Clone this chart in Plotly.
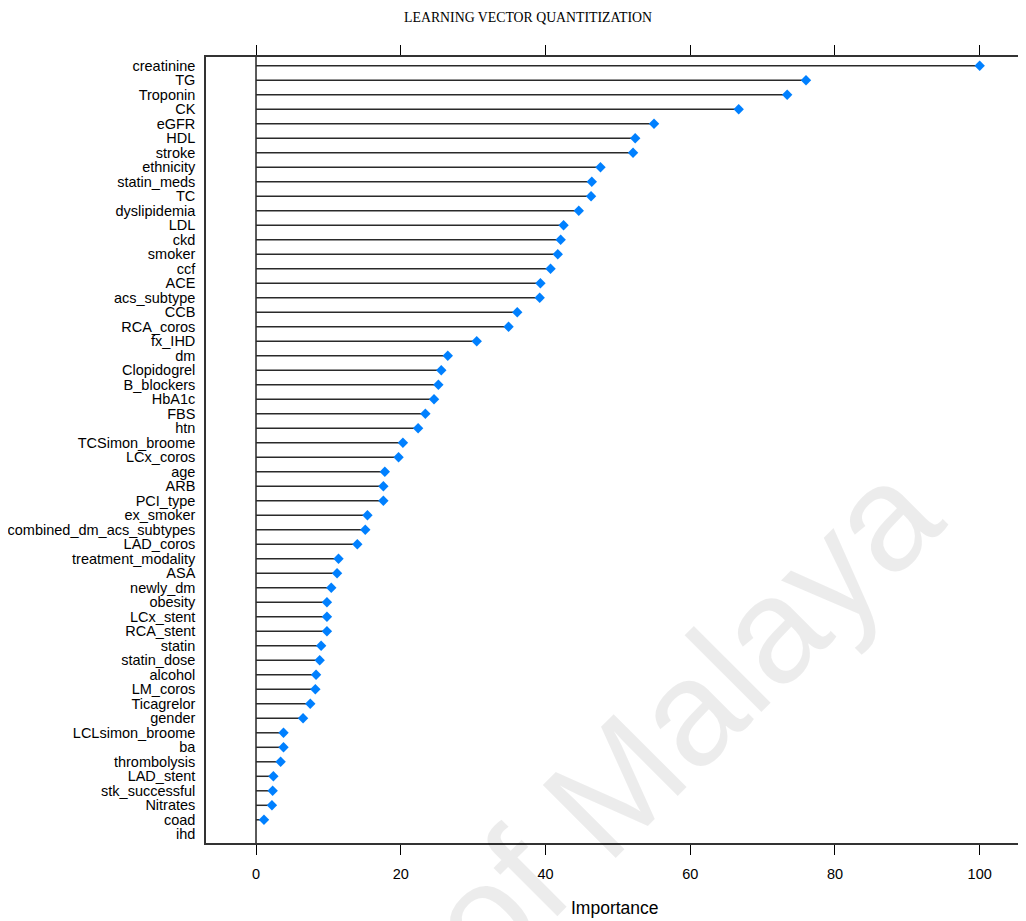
import plotly.graph_objects as go

features = ["creatinine", "TG", "Troponin", "CK", "eGFR", "HDL", "stroke", "ethnicity",
            "statin_meds", "TC", "dyslipidemia", "LDL", "ckd", "smoker", "ccf", "ACE",
            "acs_subtype", "CCB", "RCA_coros", "fx_IHD", "dm", "Clopidogrel", "B_blockers",
            "HbA1c", "FBS", "htn", "TCSimon_broome", "LCx_coros", "age", "ARB", "PCI_type",
            "ex_smoker", "combined_dm_acs_subtypes", "LAD_coros", "treatment_modality", "ASA",
            "newly_dm", "obesity", "LCx_stent", "RCA_stent", "statin", "statin_dose",
            "alcohol", "LM_coros", "Ticagrelor", "gender", "LCLsimon_broome", "ba",
            "thrombolysis", "LAD_stent", "stk_successful", "Nitrates", "coad", "ihd"]

importance = [100.0, 76.0, 73.4, 66.7, 55.0, 52.4, 52.1, 47.6,
              46.4, 46.3, 44.6, 42.5, 42.1, 41.7, 40.7, 39.3,
              39.2, 36.1, 34.9, 30.5, 26.5, 25.6, 25.2,
              24.6, 23.4, 22.4, 20.3, 19.7, 17.8, 17.6, 17.6,
              15.4, 15.1, 14.0, 11.4, 11.2,
              10.4, 9.8, 9.8, 9.8, 9.0, 8.8,
              8.3, 8.2, 7.5, 6.5, 3.8, 3.8,
              3.4, 2.4, 2.3, 2.2, 1.1, None]

x_ticks = [0, 20, 40, 60, 80, 100]

rows = list(range(1, len(features) + 1))

# lollipop segments from 0 to value
seg_x, seg_y = [], []
for r, v in zip(rows, importance):
    if v is None:
        continue
    seg_x += [0, v, None]
    seg_y += [r, r, None]

fig = go.Figure()
fig.add_trace(go.Scatter(x=seg_x, y=seg_y, mode="lines",
                         line=dict(color="#2a2a2a", width=1.5),
                         hoverinfo="skip", showlegend=False))
fig.add_trace(go.Scatter(x=importance, y=rows, mode="markers",
                         marker=dict(symbol="diamond", size=8, color="#0080FF"),
                         showlegend=False))

fig.add_shape(type="line", xref="x", yref="paper", x0=0, x1=0, y0=0, y1=1,
              line=dict(color="black", width=1.3), layer="below")

font_sans = "Liberation Sans, Arial, sans-serif"

# page has an 8px body margin, so the figure is sized 8px smaller
W, H = 1018, 913
ML, MT, PH = 198, 49, 786
PW = W - ML

fig.update_layout(
    width=W, height=H,
    margin=dict(l=ML, r=0, t=MT, b=H - MT - PH),
    paper_bgcolor="white", plot_bgcolor="white",
    font=dict(family=font_sans, color="black", size=14.5),
    title=dict(text="LEARNING VECTOR QUANTITIZATION", x=520/W, y=1-9/H,
               xanchor="center", yanchor="middle",
               font=dict(family="Liberation Serif, Times New Roman, serif", size=13.8, color="black")),
    xaxis=dict(range=[-6.91, 106.4], tickvals=x_ticks, ticktext=[str(t) for t in x_ticks],
               showgrid=False, zeroline=False, showline=True, linecolor="#333333", linewidth=1.5,
               mirror="ticks", ticks="outside", ticklen=10, tickwidth=1.2, tickcolor="black",
               tickfont=dict(size=14.5, family=font_sans, color="black"), ticklabelstandoff=7,
               automargin=False),
    yaxis=dict(range=[54.6, 0.4], tickvals=rows, ticktext=features,
               showgrid=False, zeroline=False, showline=True, linecolor="#333333", linewidth=1.5,
               mirror=False, ticks="", tickfont=dict(size=14.5, family=font_sans, color="black"),
               ticklabelstandoff=6, automargin=False),
    annotations=[
        dict(text="Importance", xref="paper", yref="paper", x=(615-206)/PW, y=-65/PH,
             xanchor="center", yanchor="middle", showarrow=False,
             font=dict(size=17.5, family=font_sans, color="black")),
        dict(text="of Malaya", xref="paper", yref="paper",
             x=(682-206)/PW, y=(843-718)/PH, xanchor="center", yanchor="middle",
             showarrow=False, textangle=-45,
             font=dict(size=150, family=font_sans, color="rgba(0,0,0,0.075)")),
    ],
)

fig.write_html("out.html")
